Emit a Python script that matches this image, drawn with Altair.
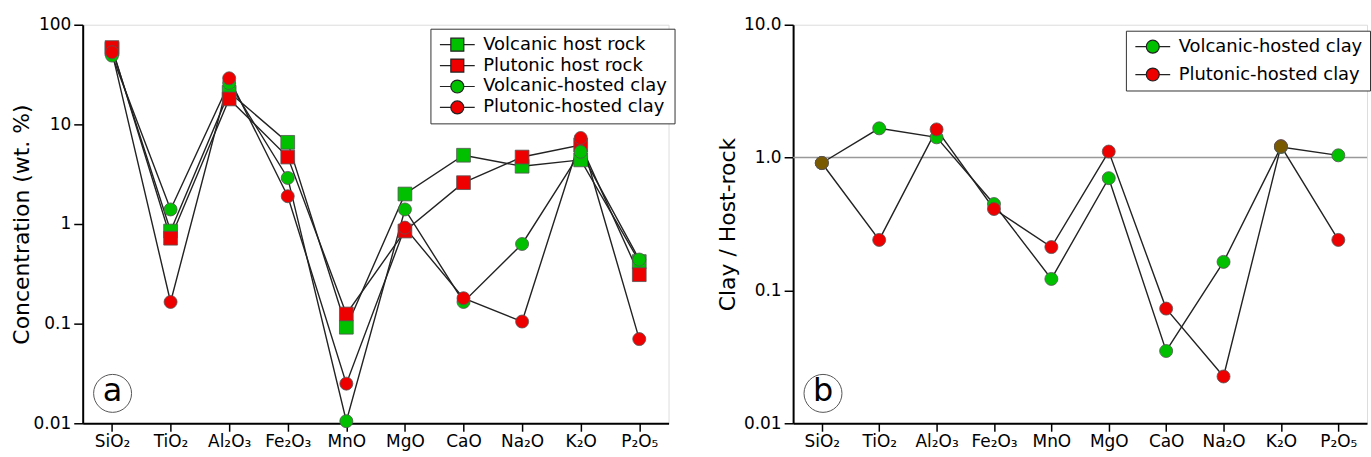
import altair as alt
import pandas as pd

oxides = ["SiO₂", "TiO₂", "Al₂O₃", "Fe₂O₃", "MnO", "MgO", "CaO", "Na₂O", "K₂O", "P₂O₅"]

# Panel a: concentrations (wt. %)
volc_rock = [57, 0.85, 21, 6.6, 0.092, 2.0, 4.9, 3.8, 4.4, 0.42]
plut_rock = [59, 0.72, 18, 4.7, 0.125, 0.85, 2.6, 4.7, 6.2, 0.31]
volc_clay = [49, 1.4, 26, 2.9, 0.0105, 1.4, 0.165, 0.63, 5.3, 0.44]
plut_clay = [53, 0.165, 29, 1.9, 0.025, 0.92, 0.18, 0.105, 7.3, 0.07]

# Panel b: clay / host-rock ratios
volc_ratio = [0.91, 1.66, 1.42, 0.447, 0.122, 0.70, 0.035, 0.164, 1.20, 1.04]
plut_ratio = [0.91, 0.24, 1.63, 0.41, 0.212, 1.11, 0.073, 0.0225, 1.22, 0.24]

series_a = ["Volcanic host rock", "Plutonic host rock", "Volcanic-hosted clay", "Plutonic-hosted clay"]
series_b = ["Volcanic-hosted clay", "Plutonic-hosted clay"]
origins = ["Volcanic", "Plutonic"]
GREEN = "#00c000"
RED = "#ee0000"
BROWN = "#7a5a00"
INK = "#222222"
FONT = "DejaVu Sans"

rows = []
for name, vals, kind, org in [(series_a[0], volc_rock, "rock", "Volcanic"),
                              (series_a[1], plut_rock, "rock", "Plutonic"),
                              (series_a[2], volc_clay, "clay", "Volcanic"),
                              (series_a[3], plut_clay, "clay", "Plutonic")]:
    for o, v in zip(oxides, vals):
        rows.append({"oxide": o, "value": v, "series": name, "kind": kind, "origin": org})
df_a = pd.DataFrame(rows)

rows = []
for name, vals, org in [(series_b[0], volc_ratio, "Volcanic"), (series_b[1], plut_ratio, "Plutonic")]:
    for o, v in zip(oxides, vals):
        rows.append({"oxide": o, "value": v, "series": name, "origin": org})
df_b = pd.DataFrame(rows)
# overlapping points (both ratios practically equal) are drawn in the blended brown
ov = [{"oxide": o, "value": (a + b) / 2} for o, a, b in zip(oxides, volc_ratio, plut_ratio)
      if abs(a - b) / b < 0.03]
df_ov = pd.DataFrame(ov)

# legend symbols: a short line with the marker in its middle
SQ = "M -1 0 L 0.69 0 M 2.69 0 L 4.38 0 M 0.69 -1 L 2.69 -1 L 2.69 1 L 0.69 1 Z"
CI = "M -1 0 L 0.69 0 M 2.69 0 L 4.38 0 M 0.69 0 A 1 1 0 1 0 2.69 0 A 1 1 0 1 0 0.69 0 Z"

x_enc = alt.X("oxide:N", sort=oxides, title=None,
              scale=alt.Scale(domain=oxides, padding=0.5),
              axis=alt.Axis(labelAngle=0, labelFontSize=17, labelFont=FONT, labelColor="black",
                            tickSize=8, tickColor="black", tickWidth=1.5, domainColor="black",
                            domainWidth=2, labelPadding=2, grid=False))


def y_enc(domain, values, title, tpad, fmt=None, expr=None):
    ax = dict(values=values, title=title, titleFontSize=22, titleFont=FONT, titleFontWeight="normal",
              titleColor="black", labelFontSize=17, labelFont=FONT, labelColor="black",
              tickSize=9, tickColor="black", tickWidth=1.5, domainColor="black", domainWidth=2,
              labelPadding=3, titlePadding=tpad, grid=False)
    if fmt:
        ax["format"] = fmt
    if expr:
        ax["labelExpr"] = expr
    return alt.Y("value:Q", scale=alt.Scale(type="log", domain=domain, nice=False),
                 axis=alt.Axis(**ax))


def legend(x, y, rowpad):
    return alt.Legend(title=None, orient="none", legendX=x, legendY=y, padding=7, rowPadding=rowpad,
                      labelFontSize=18, labelFont=FONT, labelColor="black", labelOffset=28,
                      labelLimit=400, strokeColor="#333", fillColor="white", symbolSize=169,
                      symbolStrokeColor=INK, symbolStrokeWidth=1.2, symbolOpacity=1)


def legend_layer(base, y, series, fills, shapes, lx, ly, rowpad):
    lg = legend(lx, ly, rowpad)
    return base.transform_filter("datum.value < 0").mark_point(
        filled=True, opacity=1, strokeWidth=1.2).encode(
        x=x_enc, y=y,
        fill=alt.Fill("series:N", scale=alt.Scale(domain=series, range=fills), legend=lg),
        shape=alt.Shape("series:N", scale=alt.Scale(domain=series, range=shapes), legend=lg),
        stroke=alt.Stroke("series:N", scale=alt.Scale(domain=series, range=[INK] * len(series)),
                          legend=lg))


def panel_label(letter):
    d = pd.DataFrame({"t": [letter]})
    circ = alt.Chart(d).mark_point(shape="circle", size=1450, filled=False, stroke="#555",
                                   strokeWidth=1, opacity=1).encode(
        x=alt.value(30), y=alt.value(370))
    txt = alt.Chart(d).mark_text(fontSize=32, font=FONT, color="black", baseline="middle",
                                 align="center").encode(x=alt.value(30), y=alt.value(368), text="t:N")
    return circ + txt


col = alt.Color("origin:N", scale=alt.Scale(domain=origins, range=[GREEN, RED]), legend=None)

# ---------- Panel a ----------
ya = y_enc([0.01, 100], [0.01, 0.1, 1, 10, 100], "Concentration (wt. %)", 0, fmt="~g")
base_a = alt.Chart(df_a)
lines_a = base_a.mark_line(color=INK, strokeWidth=1.4).encode(x=x_enc, y=ya, detail="series:N")
sq_a = base_a.transform_filter("datum.kind == 'rock'").mark_point(
    shape="square", filled=True, size=190, stroke="#555", strokeWidth=0.8, opacity=1).encode(
    x=x_enc, y=ya, color=col)
ci_a = base_a.transform_filter("datum.kind == 'clay'").mark_point(
    shape="circle", filled=True, size=170, stroke="#555", strokeWidth=0.8, opacity=1).encode(
    x=x_enc, y=ya, color=col)
leg_a = legend_layer(base_a, ya, series_a, [GREEN, RED, GREEN, RED], [SQ, SQ, CI, CI], 349, 4, 3)
panel_a = alt.layer(lines_a, sq_a, ci_a, leg_a, panel_label("a")).properties(width=588, height=400)

# ---------- Panel b ----------
yb = y_enc([0.01, 10], [0.01, 0.1, 1, 10], "Clay / Host-rock", 4,
           expr="datum.value < 0.05 ? '0.01' : datum.value < 0.5 ? '0.1' : format(datum.value, '.1f')")
base_b = alt.Chart(df_b)
ref_b = alt.Chart(pd.DataFrame({"value": [1.0]})).mark_rule(color="#999", strokeWidth=1.5).encode(y=yb)
lines_b = base_b.mark_line(color=INK, strokeWidth=1.4).encode(x=x_enc, y=yb, detail="series:N")
ci_b = base_b.mark_point(shape="circle", filled=True, size=170, stroke="#555", strokeWidth=0.8,
                         opacity=1).encode(x=x_enc, y=yb, color=col)
ov_b = alt.Chart(df_ov).mark_point(shape="circle", filled=True, size=170, stroke="#555", strokeWidth=0.8,
                                   opacity=1, fill=BROWN, color=BROWN).encode(x=x_enc, y=yb)
leg_b = legend_layer(base_b, yb, series_b, [GREEN, RED], [CI, CI], 334, 6, 10)
panel_b = alt.layer(ref_b, lines_b, ci_b, ov_b, leg_b, panel_label("b")).properties(width=576, height=400)

chart = alt.hconcat(panel_a, panel_b, spacing=40).resolve_scale(
    color="independent", fill="independent", shape="independent", stroke="independent",
    y="independent", x="independent"
).configure_view(
    stroke="black", strokeWidth=2).configure(
    padding={"left": 9, "top": 14, "right": 0, "bottom": 0}, background="white")

chart.save("out.html", embed_options={"renderer": "svg", "actions": False})
